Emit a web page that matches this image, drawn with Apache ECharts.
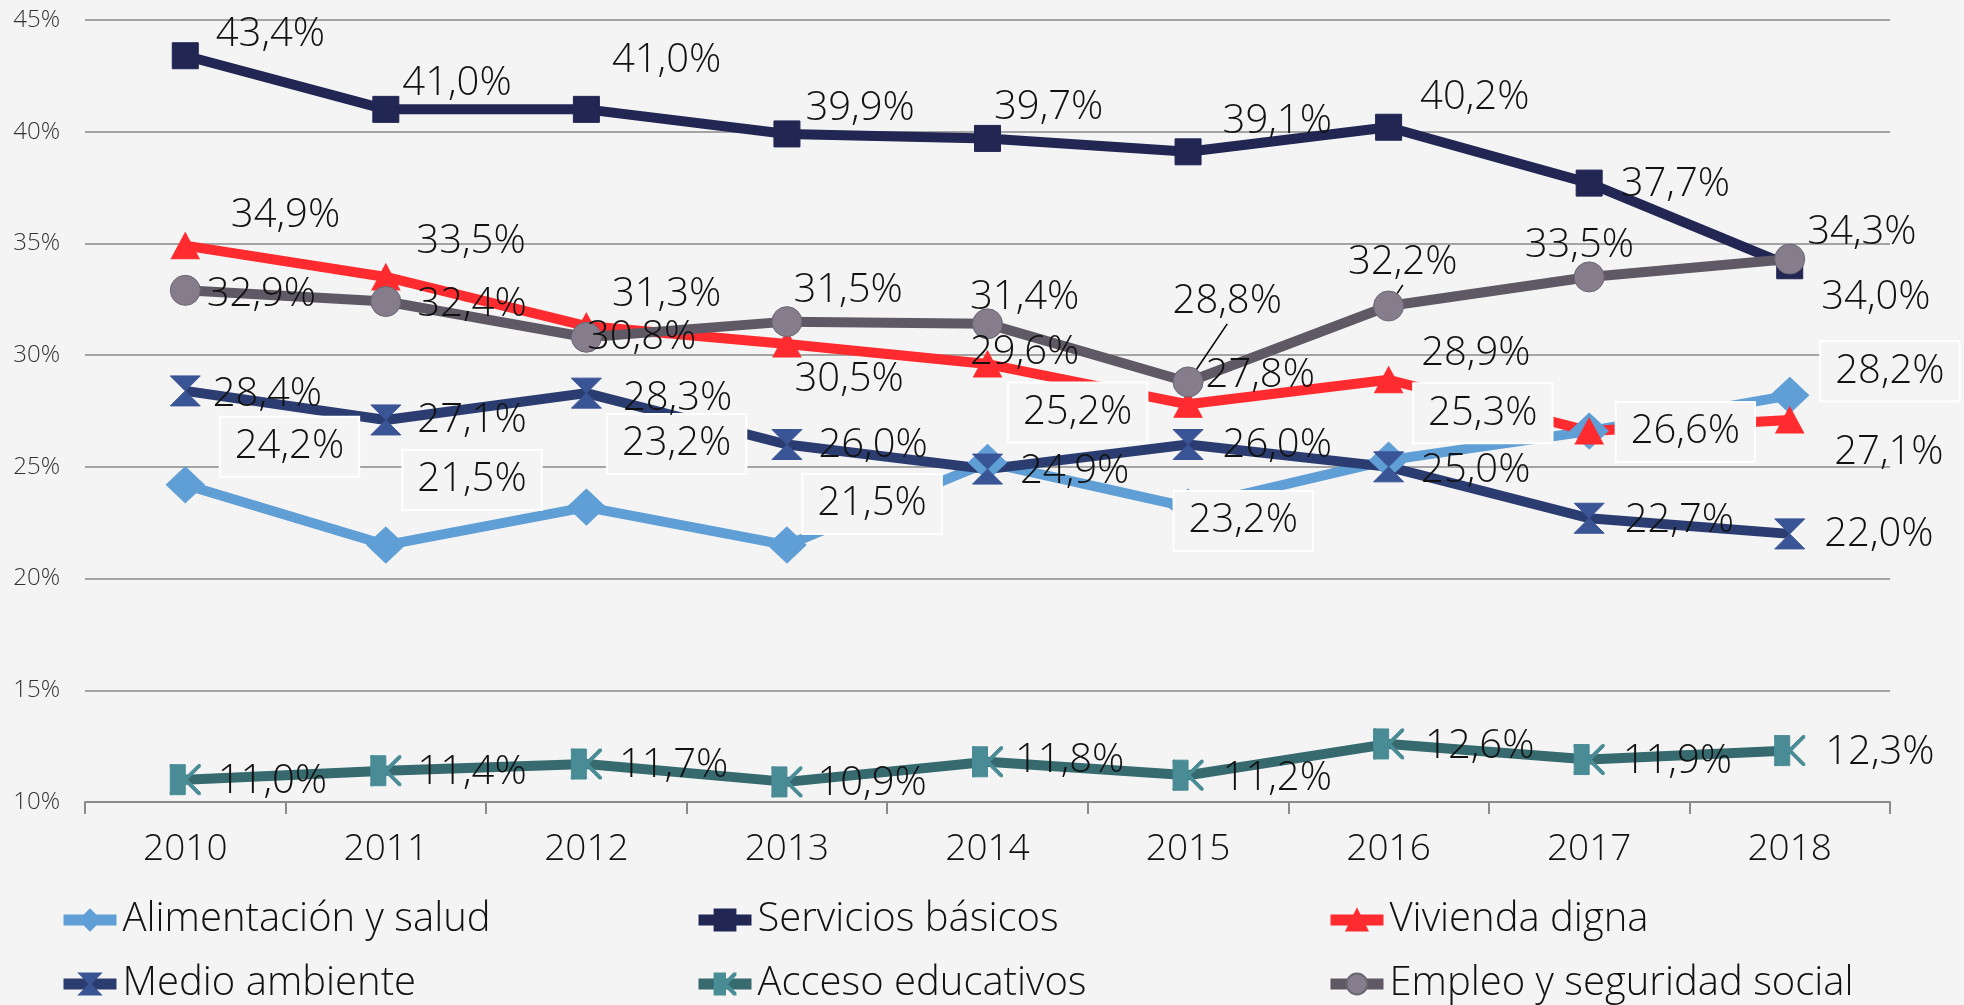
<!DOCTYPE html>
<html>
<head>
<meta charset="utf-8">
<script src="https://cdn.jsdelivr.net/npm/echarts@6/dist/echarts.min.js"></script>
<style>
  html, body { margin: 0; padding: 0; background: #f4f4f4; }
  #chart { width: 1964px; height: 1005px; }
</style>
</head>
<body>
<div id="chart"></div>
<script>
// categorias y valores (%)
var years = ["2010", "2011", "2012", "2013", "2014", "2015", "2016", "2017", "2018"];
var yMin = 10, yMax = 45, yStep = 5;

var alimentacion = [24.2, 21.5, 23.2, 21.5, 25.2, 23.2, 25.3, 26.6, 28.2];
var servicios    = [43.4, 41.0, 41.0, 39.9, 39.7, 39.1, 40.2, 37.7, 34.0];
var vivienda     = [34.9, 33.5, 31.3, 30.5, 29.6, 27.8, 28.9, 26.6, 27.1];
var medio        = [28.4, 27.1, 28.3, 26.0, 24.9, 26.0, 25.0, 22.7, 22.0];
var acceso       = [11.0, 11.4, 11.7, 10.9, 11.8, 11.2, 12.6, 11.9, 12.3];
var empleo       = [32.9, 32.4, 30.8, 31.5, 31.4, 28.8, 32.2, 33.5, 34.3];

// desplazamiento de etiquetas (px): borde izquierdo respecto al centro del punto
var shift = {
    alimentacion: [[30,-38],[12,-65],[16,-63],[11,-41],[16,-50],[-19,14],[20,-47],[22,1],[26,-24]],
    servicios:    [[25,-21],[11,-26],[20,-49],[13,-25],[1,-31],[29,-30],[26,-30],[26,2],[26,32]],
    vivienda:     [[40,-30],[25,-35],[20,-31],[2,36],[-23,-11],[12,-29],[27,-26],null,[39,33]],
    medio:        [[22,4],[26,1],[31,5],[26,1],[27,3],[29,1],[27,4],[30,2],[29,1]],
    acceso:       [[27,2],[26,2],[27,2],[25,2],[22,-1],[29,3],[31,3],[28,2],[30,2]],
    empleo:       [[16,4],[26,3],[-5,0],[1,-31],[-23,-26],[-21,-80],[-46,-43],[-70,-31],[12,-26]]
};
var leaderIdx = { empleo: [5, 6] };

var FONT = "Open Sans";
var hourglass = "path://M0,0 L20,0 L10,10 L20,20 L0,20 L10,10 Z";
var star = "path://M0,0 L10,0 L10,20 L0,20 Z M0,0 L1.5,0 L20,18.5 L20,20 L18.5,20 L0,1.5 Z M20,0 L20,1.5 L1.5,20 L0,20 L0,18.5 L18.5,0 Z";

function fmt(v) {
    return v.toFixed(1).replace(".", ",") + "%";
}

function makeSeries(key, name, values, lineColor, symbol, symbolSize, markColor, boxed) {
    var halfW = (Array.isArray(symbolSize) ? symbolSize[0] : symbolSize) / 2;
    var data = values.map(function (v, i) {
        var item = { value: v };
        if (!shift[key][i]) item.label = { show: false };
        if (leaderIdx[key] && leaderIdx[key].indexOf(i) > -1) {
            item.labelLine = { show: true, lineStyle: { color: "#000", width: 1.5 } };
        }
        return item;
    });
    var label = {
        show: true,
        position: "right",
        distance: 5,
        color: "#111",
        fontFamily: FONT,
        fontWeight: 300,
        fontSize: 40,
        lineHeight: 44,
        formatter: function (p) { return fmt(p.value); }
    };
    if (boxed) {
        label.borderColor = "#ffffff";
        label.borderWidth = 2;
        label.backgroundColor = "#f4f4f4";
        label.padding = [7, 14, 7, 14];
    }
    return {
        name: name,
        type: "line",
        data: data,
        symbol: symbol,
        symbolSize: symbolSize,
        showAllSymbol: true,
        lineStyle: { color: lineColor, width: 10 },
        itemStyle: { color: markColor, borderColor: markColor, borderWidth: 1 },
        label: label,
        labelLine: { show: false },
        labelLayout: function (p) {
            var s = shift[key][p.dataIndex] || [0, 0];
            return { dx: s[0] - halfW, dy: s[1] };
        },
        emphasis: { disabled: true },
        animation: false
    };
}

var series = [
    makeSeries("alimentacion", "Alimentación y salud", alimentacion, "#5f9fd6", "diamond", [38, 36], "#5f9fd6", true),
    makeSeries("servicios", "Servicios básicos", servicios, "#212653", "rect", 26, "#212653", false),
    makeSeries("vivienda", "Vivienda digna", vivienda, "#ff2b2e", "triangle", [28, 26], "#ff2b2e", false),
    makeSeries("medio", "Medio ambiente", medio, "#2b3d70", hourglass, 30, "#3a5596", false),
    makeSeries("acceso", "Acceso educativos", acceso, "#366a6f", star, 30, "#4a8c96", false),
    makeSeries("empleo", "Empleo y seguridad social", empleo, "#5f5966", "circle", 30, "#857d8b", false)
];
series[5].itemStyle.borderColor = "#6c6672";

function legendCol(left, names) {
    return {
        orient: "vertical",
        left: left,
        top: 900,
        itemWidth: 53,
        itemHeight: 26,
        itemGap: 24,
        padding: 0,
        data: names,
        selectedMode: false,
        lineStyle: { width: 11 },
        textStyle: { color: "#111", fontFamily: FONT, fontWeight: 300, fontSize: 40, lineHeight: 40, padding: [0, 0, 0, 1] }
    };
}

var chart = echarts.init(document.getElementById("chart"));
chart.setOption({
    backgroundColor: "#f4f4f4",
    animation: false,
    grid: { left: 85, right: 74, top: 20, bottom: 203, containLabel: false },
    legend: [
        legendCol(58, ["Alimentación y salud", "Medio ambiente"]),
        legendCol(693, ["Servicios básicos", "Acceso educativos"]),
        legendCol(1325, ["Vivienda digna", "Empleo y seguridad social"])
    ],
    xAxis: {
        type: "category",
        data: years,
        boundaryGap: true,
        axisLine: { show: true, lineStyle: { color: "#8a8a8a", width: 2 } },
        axisTick: { show: true, length: 12, lineStyle: { color: "#8a8a8a", width: 2 } },
        axisLabel: { color: "#111", fontFamily: FONT, fontWeight: 300, fontSize: 37, margin: 29 },
        splitLine: { show: false }
    },
    yAxis: {
        type: "value",
        min: yMin,
        max: yMax,
        interval: yStep,
        axisLine: { show: false },
        axisTick: { show: false },
        axisLabel: { color: "#333", fontFamily: FONT, fontWeight: 300, fontSize: 24, margin: 25, formatter: "{value}%" },
        splitLine: { show: true, lineStyle: { color: "#8a8a8a", width: 1.5 } }
    },
    series: series
});
</script>
</body>
</html>
